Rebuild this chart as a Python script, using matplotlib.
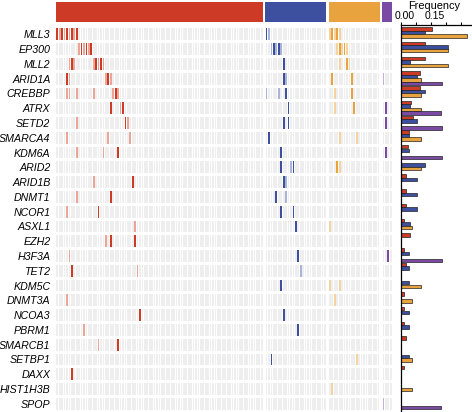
import matplotlib
matplotlib.use("Agg")
import matplotlib.pyplot as plt
import numpy as np
from matplotlib.patches import Rectangle
from matplotlib.collections import PatchCollection
import matplotlib.transforms as mtransforms

# ---------------- data ----------------
genes = ["MLL3", "EP300", "MLL2", "ARID1A", "CREBBP", "ATRX", "SETD2", "SMARCA4",
         "KDM6A", "ARID2", "ARID1B", "DNMT1", "NCOR1", "ASXL1", "EZH2", "H3F3A",
         "TET2", "KDM5C", "DNMT3A", "NCOA3", "PBRM1", "SMARCB1", "SETBP1", "DAXX",
         "HIST1H3B", "SPOP"]

group_sizes = [85, 25, 21, 4]
group_colors = ["#cd3b27", "#3d4f9f", "#e8a23e", "#7b4aa5"]
group_light = ["#eaa597", "#aab3d8", "#f5d3a0", "#c6afdc"]

# mutated samples per group: gene -> list of (sample index, strong=1 / weak=0)
mut_red = {
    "MLL3": [(0, 1), (1, 0), (2, 1), (3, 0), (4, 1), (5, 0), (6, 1), (7, 0), (8, 1)],
    "EP300": [(9, 0), (10, 1), (11, 0), (12, 1), (13, 0), (14, 1)],
    "MLL2": [(5, 0), (6, 1), (7, 0), (15, 0), (16, 1), (17, 0), (18, 1), (19, 0)],
    "ARID1A": [(4, 1), (5, 0), (20, 0), (21, 1), (22, 0)],
    "CREBBP": [(4, 0), (5, 0), (8, 0), (15, 0), (23, 0), (24, 1), (25, 0)],
    "ATRX": [(22, 1), (26, 0), (27, 1)],
    "SETD2": [(8, 0), (28, 1), (29, 0)],
    "SMARCA4": [(4, 0), (21, 0), (30, 0)],
    "KDM6A": [(8, 0), (19, 0), (25, 1)],
    "ARID1B": [(15, 0), (31, 1)],
    "DNMT1": [(8, 0), (22, 1)],
    "NCOR1": [(4, 0), (17, 1)],
    "ASXL1": [(32, 0)],
    "EZH2": [(20, 0), (22, 1), (32, 1)],
    "H3F3A": [(5, 0)],
    "TET2": [(6, 1), (33, 0)],
    "DNMT3A": [(4, 0)],
    "NCOA3": [(34, 1)],
    "PBRM1": [(11, 0)],
    "SMARCB1": [(17, 0), (25, 1)],
    "DAXX": [(6, 1)],
}
mut_blue = {
    "MLL3": [(0, 1), (1, 0)],
    "EP300": [(2, 0), (3, 1), (4, 0), (5, 1), (6, 0)],
    "MLL2": [(7, 1)],
    "ARID1A": [(7, 1), (8, 0)],
    "CREBBP": [(0, 0), (5, 0), (8, 1)],
    "ATRX": [(9, 1)],
    "SETD2": [(7, 1), (9, 1)],
    "SMARCA4": [(1, 1)],
    "KDM6A": [(6, 1)],
    "ARID2": [(6, 1), (10, 0), (11, 1)],
    "ARID1B": [(7, 1), (8, 0)],
    "DNMT1": [(4, 1), (8, 0)],
    "NCOR1": [(6, 1), (11, 1)],
    "ASXL1": [(12, 1)],
    "H3F3A": [(13, 1)],
    "TET2": [(14, 0)],
    "KDM5C": [(6, 1)],
    "NCOA3": [(7, 1)],
    "PBRM1": [(13, 1)],
    "SETBP1": [(2, 1)],
}
mut_orange = {
    "MLL3": [(0, 0), (1, 1), (2, 0), (3, 1), (4, 0)],
    "EP300": [(3, 0), (4, 1), (5, 0), (6, 1), (7, 0)],
    "MLL2": [(4, 0), (7, 1), (8, 0)],
    "ARID1A": [(1, 1), (9, 1)],
    "CREBBP": [(2, 0), (9, 1)],
    "ATRX": [(2, 0), (10, 1)],
    "SMARCA4": [(4, 0), (11, 0)],
    "ARID2": [(3, 1), (4, 0)],
    "ASXL1": [(0, 0)],
    "KDM5C": [(0, 0), (4, 0)],
    "DNMT3A": [(2, 0)],
    "SETBP1": [(11, 0)],
    "HIST1H3B": [(1, 0)],
}
mut_purple = {
    "ARID1A": [(0, 0)],
    "ATRX": [(1, 1)],
    "SETD2": [(1, 1)],
    "KDM6A": [(1, 1)],
    "H3F3A": [(2, 1)],
    "SPOP": [(0, 0)],
}

freq_red = [0.153, 0.12, 0.12, 0.095, 0.095, 0.048, 0.058, 0.04, 0.037, 0.0,
            0.027, 0.025, 0.027, 0.015, 0.043, 0.013, 0.027, 0.0, 0.015, 0.015,
            0.015, 0.027, 0.0, 0.015, 0.0, 0.0]
freq_blue = [0.12, 0.237, 0.045, 0.078, 0.12, 0.045, 0.082, 0.042, 0.042, 0.12,
             0.082, 0.082, 0.082, 0.045, 0.0, 0.042, 0.042, 0.042, 0.0, 0.042,
             0.042, 0.0, 0.042, 0.0, 0.0, 0.0]
freq_orange = [0.33, 0.237, 0.237, 0.098, 0.098, 0.098, 0.0, 0.098, 0.0, 0.098,
               0.0, 0.0, 0.0, 0.055, 0.0, 0.0, 0.0, 0.098, 0.055, 0.0,
               0.0, 0.0, 0.055, 0.0, 0.055, 0.0]
freq_purple = [0.0, 0.0, 0.0, 0.203, 0.0, 0.2, 0.203, 0.0, 0.203, 0.0,
               0.0, 0.0, 0.0, 0.0, 0.0, 0.203, 0.0, 0.0, 0.0, 0.0,
               0.0, 0.0, 0.0, 0.0, 0.0, 0.2]
freq_ticks = [0.0, 0.075, 0.15, 0.225, 0.30]
freq_tick_labels = ["0.00", "", "0.15", "", ""]

# ---------------- layout ----------------
W, H = 472, 412
fig = plt.figure(figsize=(W / 100, H / 100), dpi=100)
plt.rcParams['font.family'] = ['Liberation Sans', 'DejaVu Sans']

def px_axes(x0, y0, x1, y1):
    return fig.add_axes([x0 / W, 1 - y1 / H, (x1 - x0) / W, (y1 - y0) / H])

ngenes = len(genes)
offsets = np.concatenate([[0], np.cumsum(np.array(group_sizes) + 1)[:-1]])
total = int(offsets[-1] + group_sizes[-1])

heat_top, heat_bot = 26.9, 411.2
ax = px_axes(56, heat_top, 392, heat_bot)
ax.set_xlim(-0.5, total - 0.5)
ax.set_ylim(ngenes - 0.5, -0.5)

cw, ch = 0.72, 0.80
bg = []
for g, n in enumerate(group_sizes):
    for c in range(n):
        x = offsets[g] + c
        for r in range(ngenes):
            bg.append(Rectangle((x - cw / 2, r - ch / 2), cw, ch))
ax.add_collection(PatchCollection(bg, facecolor="#eeeeee", edgecolor="none"))

muts = [mut_red, mut_blue, mut_orange, mut_purple]
for g, md in enumerate(muts):
    for gene, lst in md.items():
        r = genes.index(gene)
        for c, strong in lst:
            x = offsets[g] + c
            col = group_colors[g] if strong else group_light[g]
            ax.add_patch(Rectangle((x - cw / 2, r - ch / 2), cw, ch,
                                   facecolor=col, edgecolor="none"))

ax.set_xticks([])
ax.set_yticks(range(ngenes))
ax.set_yticklabels(genes, fontsize=7.7, style="italic")
ax.tick_params(axis="y", length=0, pad=4)
for s in ax.spines.values():
    s.set_visible(False)

# group bar on top
axg = px_axes(56, 2, 392, 21.7)
axg.set_xlim(-0.5, total - 0.5)
axg.set_ylim(0, 1)
for g, n in enumerate(group_sizes):
    axg.add_patch(Rectangle((offsets[g] - 0.5, 0), n, 1,
                            facecolor=group_colors[g], edgecolor="none"))
axg.axis("off")

# frequency panel
axf = px_axes(401, heat_top - 1.5, 472, heat_bot)
axf.set_xlim(0, (472 - 401) * 0.005)
axf.set_ylim(ngenes - 0.5 + 0.1, -0.5 - 0.1)
slot_off = [-0.36, -0.12, 0.12, 0.36]
bh = 0.23
ys = np.arange(ngenes)
for k, fr in enumerate([freq_red, freq_blue, freq_orange, freq_purple]):
    vals = np.array(fr)
    m = vals > 0
    axf.barh(ys[m] + slot_off[k], vals[m], height=bh, color=group_colors[k],
             edgecolor="#222222", linewidth=0.5)
axf.xaxis.tick_top()
axf.set_xticks(freq_ticks)
axf.set_xticklabels(freq_tick_labels, fontsize=7.5)
axf.tick_params(axis="x", length=2.2, width=0.8, pad=0.8, direction="out")
axf.set_yticks([])
for lab in axf.get_xticklabels():
    lab.set_transform(lab.get_transform() +
                      mtransforms.ScaledTranslation(4 / 100, 0, fig.dpi_scale_trans))
axf.spines["right"].set_visible(False)
axf.spines["bottom"].set_visible(False)
axf.spines["top"].set_linewidth(0.9)
axf.spines["left"].set_linewidth(0.9)
fig.text(434 / W, 1 - 9.3 / H, "Frequency", ha="center", va="baseline", fontsize=7.9)

fig.savefig("out.png", dpi=100)
